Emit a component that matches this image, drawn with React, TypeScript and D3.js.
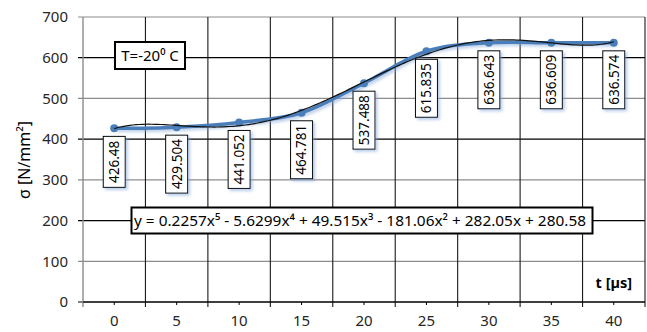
import React from 'react';
import * as d3 from 'd3';

const categories = ['0', '5', '10', '15', '20', '25', '30', '35', '40'];
const stress = [426.48, 429.504, 441.052, 464.781, 537.488, 615.835, 636.643, 636.609, 636.574];
const pointLabels = ['426.48', '429.504', '441.052', '464.781', '537.488', '615.835', '636.643', '636.609', '636.574'];
const yTicks = [0, 100, 200, 300, 400, 500, 600, 700];
// polynomial trendline coefficients, x^0 .. x^5 (x = point number 1..9)
const trendCoefs = [280.58, 282.05, -181.06, 49.515, -5.6299, 0.2257];
const equationText = 'y = 0.2257x⁵ - 5.6299x⁴ + 49.515x³ - 181.06x² + 282.05x + 280.58';
const tempText = 'T=-20⁰ C';

const W = 647;
const H = 332;
const margin = { top: 17, right: 2, bottom: 30, left: 83 };
const font = '"Noto Sans", "Open Sans", sans-serif';

const App = () => {
    const x = d3.scaleBand<string>().domain(categories).range([margin.left, W - margin.right]).padding(0);
    const y = d3.scaleLinear().domain([0, 700]).range([H - margin.bottom, margin.top]);
    const bw = x.bandwidth();
    const cx = (i: number) => (x(categories[i]) as number) + bw / 2;

    const pts: [number, number][] = stress.map((v, i) => [cx(i), y(v)]);
    const seriesLine = d3.line<[number, number]>().curve(d3.curveCatmullRom.alpha(0))(pts);

    const tx = d3.scaleLinear().domain([1, categories.length]).range([cx(0), cx(categories.length - 1)]);
    const poly = (t: number) => trendCoefs.reduce((s, c, k) => s + c * Math.pow(t, k), 0);
    const trendPts: [number, number][] = d3.range(1, categories.length + 0.001, 0.05).map(t => [tx(t), y(poly(t))]);
    const trendLine = d3.line<[number, number]>()(trendPts);

    const bottom = y(0);

    return (
        <svg width={W} height={H} style={{ position: 'absolute', left: 0, top: 0, background: '#fff' }}>
            <defs>
                <filter id="glow" x="-50%" y="-50%" width="200%" height="200%">
                    <feDropShadow dx="2" dy="2" stdDeviation="1.5" floodColor="#7fa3d6" floodOpacity="0.55" />
                </filter>
            </defs>

            {/* horizontal gridlines */}
            {yTicks.map(t => (
                <g key={'h' + t}>
                    <line x1={margin.left - 5} x2={W - margin.right} y1={y(t)} y2={y(t)}
                        stroke={t % 200 === 0 ? '#000' : '#8c8c8c'} strokeWidth={1.2} />
                    <text x={68} y={y(t)} dy="0.35em" textAnchor="end" fontFamily={font} fontSize={15} fill="#262626">{t}</text>
                </g>
            ))}

            {/* vertical gridlines at category boundaries */}
            {categories.map((c, i) => (
                <line key={'v' + c} x1={(x(c) as number) + bw} x2={(x(c) as number) + bw} y1={margin.top} y2={bottom + 5}
                    stroke="#1a1a1a" strokeWidth={1.1} />
            ))}
            <line x1={margin.left} x2={margin.left} y1={margin.top} y2={bottom + 5} stroke="#8c8c8c" strokeWidth={1.4} />
            <line x1={margin.left} x2={W - margin.right} y1={bottom} y2={bottom} stroke="#000" strokeWidth={1.2} />

            {/* x ticks and labels */}
            {categories.map((c, i) => (
                <g key={'xt' + c}>
                    <line x1={cx(i)} x2={cx(i)} y1={bottom} y2={bottom + 3} stroke="#000" />
                    <text x={cx(i)} y={326} textAnchor="middle" fontFamily={font} fontSize={15} fill="#262626">{c}</text>
                </g>
            ))}

            {/* series and trendline */}
            <path d={seriesLine || ''} fill="none" stroke="#4a7ebb" strokeWidth={3.5} strokeLinejoin="round" filter="url(#glow)" />
            {pts.map((p, i) => (
                <circle key={'m' + i} cx={p[0]} cy={p[1]} r={4} fill="#4a7ebb" />
            ))}
            <path d={trendLine || ''} fill="none" stroke="#111" strokeWidth={1.2} />

            {/* data labels */}
            {pts.map((p, i) => {
                const h = pointLabels[i].length * 7 + 9;
                const top = p[1] + 8;
                return (
                    <g key={'l' + i}>
                        <rect x={p[0] - 11} y={top} width={22} height={h} fill="#fff" stroke="#000" strokeWidth={1} filter="url(#glow)" />
                        <text transform={`translate(${p[0]},${top + h / 2}) rotate(-90)`} textAnchor="middle" dy="0.36em"
                            fontFamily={font} fontSize={13.5} fill="#000">{pointLabels[i]}</text>
                    </g>
                );
            })}

            {/* temperature box */}
            <rect x={115} y={42} width={70} height={27} fill="#fff" stroke="#000" strokeWidth={2} />
            <text x={150} y={55.5} dy="0.36em" textAnchor="middle" fontFamily={font} fontSize={15} fill="#000">{tempText}</text>

            {/* equation box */}
            <rect x={131.5} y={207.5} width={461} height={26} fill="#fff" stroke="#000" strokeWidth={2} />
            <text x={134} y={220.5} dy="0.36em" fontFamily={font} fontSize={15} fill="#000"
                textLength={452} lengthAdjust="spacingAndGlyphs">{equationText}</text>

            {/* axis titles */}
            <text transform="translate(30,160) rotate(-90)" textAnchor="middle" fontFamily={font} fontSize={16} fill="#000">σ [N/mm²]</text>
            <text x={632} y={288} textAnchor="end" fontFamily={font} fontSize={14.5} fontWeight="bold" fill="#000">t [µs]</text>
        </svg>
    );
};

export default App;
